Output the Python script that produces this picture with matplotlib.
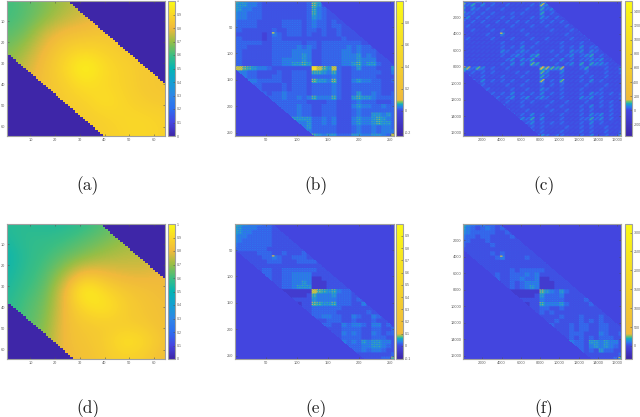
import numpy as np
import matplotlib
matplotlib.use("Agg")
import matplotlib.pyplot as plt
from matplotlib.colors import LinearSegmentedColormap, Normalize

W, H = 640, 417

# smooth panels, values at every 8th index
field_a = [
    [.60, .63, .67, .72, .75, .77, .79, .80, .80],
    [.60, .63, .68, .74, .77, .80, .81, .82, .82],
    [.63, .66, .77, .82, .83, .84, .84, .84, .84],
    [.66, .72, .81, .87, .90, .88, .85, .85, .85],
    [.70, .76, .83, .90, 1.0, .91, .88, .85, .85],
    [.72, .78, .83, .87, .93, .90, .88, .85, .84],
    [.74, .80, .84, .86, .88, .93, .89, .86, .85],
    [.78, .82, .84, .85, .86, .88, .90, .90, .88],
    [.80, .82, .84, .85, .86, .87, .89, .90, .88]]
field_d = [
    [.56, .57, .55, .55, .58, .62, .66, .70, .72],
    [.54, .58, .58, .60, .63, .66, .70, .72, .74],
    [.50, .57, .60, .64, .68, .72, .74, .74, .76],
    [.52, .58, .62, .72, .83, .80, .78, .78, .80],
    [.54, .60, .64, .80, 1.0, .90, .85, .83, .81],
    [.56, .62, .66, .81, .91, .95, .87, .84, .82],
    [.58, .62, .68, .82, .85, .86, .86, .85, .82],
    [.60, .64, .70, .82, .84, .86, .94, .91, .83],
    [.62, .66, .72, .80, .83, .85, .88, .86, .81]]

# block panels, one digit per block, digit = index into levels
levels = [0, -0.03, 0.008, 0.021, 0.033, 0.046, 0.058, 0.07, 0.12, 0.6]
blocks_b = [
    "7654 4322 2222 2223 7622 2222 2222 2222 2",
    "6554 4322 2222 2223 7522 2222 2222 2222 2",
    "6544 3322 2222 2223 6432 2222 2222 2222 2",
    "5443 3322 2222 2223 6432 2222 2222 2222 2",
    "5443 3322 2222 2223 5432 2222 2222 2222 2",
    "4333 3222 2233 3323 4332 3222 2222 2222 2",
    "4333 3222 2233 3323 4332 3322 2222 2222 2",
    "3322 2222 3223 3323 3232 2322 2222 2222 2",
    "2222 2212 4323 3323 2232 2322 2222 2222 2",
    "3322 2212 3322 2222 2222 2232 2222 2222 2",
    "3333 3322 3333 3323 3233 3333 3322 2222 2",
    "3332 2222 3333 3434 3233 3334 3433 2222 2",
    "3322 2222 3333 4444 2233 3344 3433 3222 2",
    "3322 2222 3333 4454 2233 3344 4534 3222 2",
    "3322 2222 3344 4454 2233 3344 4544 4222 2",
    "3322 2222 3344 5565 2233 3344 5645 5322 2",
    "8876 5443 2222 2222 9875 8322 3533 3222 5",
    "5443 3222 2322 3332 6654 6322 3333 3322 4",
    "2443 3222 3322 3332 3333 4322 3333 3222 2",
    "2254 4333 3322 3332 7554 7322 4544 3322 3",
    "2223 3322 2232 3332 3333 4322 3333 3322 2",
    "2222 3322 2232 3332 3333 4322 3333 3322 2",
    "2222 2332 3343 3332 3333 4322 3533 4322 3",
    "2222 2233 3343 3434 6444 6322 5655 4333 3",
    "2222 2223 3333 3332 2223 3222 3433 3222 3",
    "2222 2222 3333 3433 2233 3222 4544 3343 3",
    "2222 2222 2333 3433 2233 3222 3433 3333 3",
    "2222 2222 2333 3433 2233 3222 3433 5545 3",
    "2222 2222 2255 5555 3343 4222 4544 5654 3",
    "2222 2222 2223 3445 3343 4222 4544 5655 3",
    "2222 2222 2222 3445 3333 3222 3433 4344 3",
    "2222 2222 2222 2344 3333 3222 3433 4344 4",
    "2222 2222 2222 2236 6545 5333 5544 5543 8"]
blocks_c = [
    "7425 3242 3222 3222 6722 2222 2222 2222 2",
    "6352 4232 2322 2232 7422 2222 2222 2222 2",
    "5243 2322 3222 2322 5342 3222 2222 2222 2",
    "5332 3232 2232 3222 5232 2322 2222 2222 2",
    "3423 2322 3232 2232 4323 2232 2222 2222 2",
    "3232 3223 2323 2322 3232 3223 2222 2222 2",
    "2322 2322 2232 2232 2322 2322 2222 2222 2",
    "2232 2232 3222 3222 2232 2232 3222 2222 2",
    "2222 2322 4222 2322 2222 2322 2322 2222 2",
    "2322 2232 2232 2232 2322 2232 2232 2222 2",
    "2222 2222 3222 3223 2222 3222 3223 2222 2",
    "2222 2222 3232 4232 2222 3232 4233 2222 2",
    "2222 2222 4323 4323 2232 3243 4243 2222 2",
    "2222 2222 3234 3245 2223 2342 3452 3222 2",
    "2222 2222 2342 4352 2232 4232 3343 4222 2",
    "2222 2222 3242 4265 2223 2342 5254 4322 2",
    "8736 4232 2322 2222 8765 7222 3522 2322 4",
    "4232 3232 2223 2322 6422 4222 2322 2322 3",
    "2322 3222 3222 3222 5322 3222 3232 2322 2",
    "2232 4232 3232 2322 7232 6222 3242 3222 2",
    "2222 3222 2322 3222 3232 3222 2322 2322 2",
    "2222 2322 2232 2322 4322 3222 3222 3222 2",
    "2222 2232 3242 3232 4232 3222 3243 3232 3",
    "2222 2223 2342 3423 4322 3222 4342 3222 3",
    "2222 2222 2322 3232 2232 2322 2322 3232 2",
    "2222 2222 3222 3222 2322 3222 3242 3232 2",
    "2222 2222 2322 2322 2232 2322 3232 2232 2",
    "2222 2222 2232 3242 3222 3222 3243 4232 2",
    "2222 2222 2222 4352 4222 3222 3353 4232 2",
    "2222 2222 2222 2342 3232 3222 3242 3222 2",
    "2222 2222 2222 3232 3222 2322 3232 2322 2",
    "2222 2222 2222 2232 3222 3222 3232 2322 3",
    "2222 2222 2222 2243 4323 3222 3242 2322 7"]
blocks_e = [
    "7654 4433 2200 0000 0000 0000 0000 0000 0",
    "6544 4333 2220 0000 0000 0000 0000 0000 0",
    "6544 3333 2222 0000 0000 0000 0000 0000 0",
    "5443 3333 2222 2000 0000 0000 0000 0000 0",
    "5433 3333 2222 2200 0000 0000 0000 0000 0",
    "4333 3333 2222 2220 0000 0000 0000 0000 0",
    "3333 3332 2222 2222 2000 0000 0000 0000 0",
    "2222 2333 2232 2232 2200 0000 0000 0000 0",
    "0222 2233 4322 3332 2220 0000 0000 0000 0",
    "0022 2223 3322 2333 3220 0000 0000 0000 0",
    "0002 2222 2222 2222 2222 0000 0000 0000 0",
    "0000 2233 2233 3333 3222 2000 0000 0000 0",
    "0000 0233 2233 4444 2222 2200 0000 0000 0",
    "0000 0033 2233 4444 1122 2220 0000 0000 0",
    "0000 0002 2233 4454 1112 2222 0000 0000 0",
    "0000 0000 2233 4555 1112 2222 2000 0000 0",
    "0000 0000 0111 1111 8765 6433 2200 0000 0",
    "0000 0000 0111 1112 6444 5333 2220 0000 0",
    "0000 0000 0011 2222 5444 4333 2322 0000 0",
    "0000 0000 0001 1122 7655 6333 2242 2000 0",
    "0000 0000 0000 1122 3333 3322 2222 2200 0",
    "0000 0000 0000 0112 3333 3222 2223 2220 0",
    "0000 0000 0000 0012 3344 3322 4322 4322 0",
    "0000 0000 0000 0002 2223 3322 3222 3222 2",
    "0000 0000 0000 0000 2233 2243 4432 4423 2",
    "0000 0000 0000 0000 0222 2233 3322 3322 3",
    "0000 0000 0000 0000 0022 2243 4322 4323 3",
    "0000 0000 0000 0000 0002 2233 3322 3332 2",
    "0000 0000 0000 0000 0000 2243 4354 5544 2",
    "0000 0000 0000 0000 0000 0233 3344 5543 2",
    "0000 0000 0000 0000 0000 0023 3343 4432 2",
    "0000 0000 0000 0000 0000 0002 2222 2222 3",
    "0000 0000 0000 0000 0000 0000 2222 2233 7"]
blocks_f = [
    "7543 4332 2200 0000 0000 0000 0000 0000 0",
    "6432 3432 3220 0000 0000 0000 0000 0000 0",
    "5433 3332 2322 0000 0000 0000 0000 0000 0",
    "4332 3322 2232 2000 0000 0000 0000 0000 0",
    "3322 2322 2222 2200 0000 0000 0000 0000 0",
    "3222 2232 2222 2220 0000 0000 0000 0000 0",
    "2222 2222 2222 2222 2000 0000 0000 0000 0",
    "2222 2232 3222 2222 2200 0000 0000 0000 0",
    "0222 2223 4222 2322 2220 0000 0000 0000 0",
    "0022 2222 2222 2222 2220 0000 0000 0000 0",
    "0002 2222 2222 2222 2222 0000 0000 0000 0",
    "0000 2222 2232 3333 3222 2000 0000 0000 0",
    "0000 0223 2233 3434 2222 2200 0000 0000 0",
    "0000 0023 2233 4334 1122 2220 0000 0000 0",
    "0000 0002 2232 3444 1112 2222 0000 0000 0",
    "0000 0000 2232 3454 1112 2222 2000 0000 0",
    "0000 0000 0111 1111 7543 5322 2200 0000 0",
    "0000 0000 0111 1112 5333 4222 2220 0000 0",
    "0000 0000 0011 2222 4333 3222 2322 0000 0",
    "0000 0000 0001 1122 6444 5322 2232 2000 0",
    "0000 0000 0000 1122 3322 3222 2222 2200 0",
    "0000 0000 0000 0112 3232 2222 2222 2220 0",
    "0000 0000 0000 0012 2222 3222 3222 3222 0",
    "0000 0000 0000 0002 2223 2222 3232 3222 2",
    "0000 0000 0000 0000 2232 2232 3322 3322 2",
    "0000 0000 0000 0000 0222 2232 3322 3322 2",
    "0000 0000 0000 0000 0022 2233 3222 4322 3",
    "0000 0000 0000 0000 0002 2232 3232 3332 2",
    "0000 0000 0000 0000 0000 2243 3255 4544 2",
    "0000 0000 0000 0000 0000 0233 3245 4543 2",
    "0000 0000 0000 0000 0000 0022 3232 5332 2",
    "0000 0000 0000 0000 0000 0002 2222 2222 3",
    "0000 0000 0000 0000 0000 0000 2222 2223 7"]

# dotted fine structure inside each block (one per panel family)
tile_dots = [[1.5, .7, 1.4, .7], [.7, 1.0, .7, 1.0], [1.4, .7, 1.5, .7], [.7, 1.0, .7, 1.0]]
tile_slant = [[.5, .5, 1.3, 1.8], [.5, 1.3, 1.8, .5], [1.3, 1.8, .5, .5], [.5, .5, .5, .5]]
tiles = {"b": tile_dots, "e": tile_dots, "f": tile_dots, "c": tile_slant}

# small hot spots: row, column, value
hot_b = [(61, 61, 1.0), (60, 62, 0.5)]
hot_c = [(3950, 3950, 1100), (3900, 4000, 600)]
hot_e = [(61, 61, 0.5), (60, 62, 0.3)]
hot_f = [(3950, 3950, 1400), (3900, 4000, 600)]
hot_spots = {"b": hot_b, "c": hot_c, "e": hot_e, "f": hot_f}

offsets = {"a": (24, 24), "d": (37, 36), "b": (134, 128), "e": (60, 48),
           "c": (8400, 8400), "f": (3900, 3100)}
panel_names = ["a", "b", "c", "d", "e", "f"]
sizes = {"a": 64, "d": 64, "b": 256, "e": 256, "c": 16384, "f": 16384}
limits = {"a": (0, 1), "d": (0, 1), "b": (-0.23, 1.0), "e": (-0.107, 0.998),
          "c": (-366, 1549), "f": (-344, 3227)}
axis_ticks = {"a": [10, 20, 30, 40, 50, 60], "b": [50, 100, 150, 200, 250],
              "c": [2000, 4000, 6000, 8000, 10000, 12000, 14000, 16000]}
axis_ticks["d"], axis_ticks["e"], axis_ticks["f"] = axis_ticks["a"], axis_ticks["b"], axis_ticks["c"]
bar_ticks = {"a": [0, .1, .2, .3, .4, .5, .6, .7, .8, .9, 1],
             "b": [-.2, 0, .2, .4, .6, .8, 1],
             "c": [-200, 0, 200, 400, 600, 800, 1000, 1200, 1400],
             "e": [-.1, 0, .1, .2, .3, .4, .5, .6, .7, .8, .9],
             "f": [0, 500, 1000, 1500, 2000, 2500, 3000]}
bar_ticks["d"] = bar_ticks["a"]

# pixel boxes of the axes and colorbars: left, right
columns = {"a": (7, 165, 168, 175), "b": (235, 394, 396, 403), "c": (463, 621, 625, 632)}
columns["d"], columns["e"], columns["f"] = columns["a"], columns["b"], columns["c"]
rows = {"a": (1, 136), "b": (1, 136), "c": (1, 136), "d": (224, 359), "e": (224, 359), "f": (224, 359)}
caption_x = {"a": 88, "b": 316, "c": 544, "d": 88, "e": 316, "f": 544}
caption_y = {"a": 186, "b": 186, "c": 186, "d": 409, "e": 409, "f": 409}

parula = ["#3e26a8", "#4646e1", "#2d6ef0", "#2e86e6", "#14a0d2", "#05b4b4",
          "#3cbe82", "#96be46", "#f0b93c", "#fad728", "#fafa14"]
edge = "#a0a0a0"
ink = "#606060"
tick_font = "Liberation Sans"


def ramp_cmap(vmin, vmax):
    # all of the colour change happens in the first tenth above zero
    nodes = [(vmin, "#3e26a8"), (0, "#4446e0"), (.03 * vmax, "#2d78f0"),
             (.06 * vmax, "#14afbe"), (.08 * vmax, "#78c364"),
             (.097 * vmax, "#f0b93c"), (vmax, "#fafa14")]
    return LinearSegmentedColormap.from_list(
        "ramp", [((v - vmin) / (vmax - vmin), c) for v, c in nodes], N=512)


def parse_blocks(table, vmax):
    grid = [[levels[int(ch)] * vmax for ch in row.replace(" ", "")] for row in table]
    return np.array(grid)


def dotted(grid, tile, spots, n):
    fine = np.kron(grid, np.array(tile))
    m = fine.shape[0]
    neg = np.kron(grid, np.ones((4, 4)))
    fine[neg < 0] = neg[neg < 0]
    for r, c, v in spots:
        fine[int((r / n) * (m - 4)) + 2, int((c / n) * (m - 4)) + 2] = v
    return fine


def box(left, right, top, bottom):
    return [left / W, 1 - bottom / H, (right - left) / W, (bottom - top) / H]


def style_axes(ax):
    for s in ax.spines.values():
        s.set_color(edge)
        s.set_linewidth(0.8)


fig = plt.figure(figsize=(W / 100, H / 100), dpi=100)
data = {"a": field_a, "d": field_d, "b": parse_blocks(blocks_b, 1.0), "c": parse_blocks(blocks_c, 1240),
        "e": parse_blocks(blocks_e, 0.998), "f": parse_blocks(blocks_f, 3227)}

for name in panel_names:
    l, r, cl, cr = columns[name]
    t, b = rows[name]
    n = sizes[name]
    vmin, vmax = limits[name]
    ax = fig.add_axes(box(l, r, t, b))
    grid = np.array(data[name], dtype=float)
    if name in "ad":
        cmap = LinearSegmentedColormap.from_list("par", parula, N=256)
        interp = "bicubic"
        step = n / 8
    else:
        cmap = ramp_cmap(vmin, vmax)
        interp = "bilinear"
        step = n / 32
        grid = dotted(grid, tiles[name], hot_spots[name], n)
    norm = Normalize(vmin, vmax)
    extent = (-step / 2, n + step / 2, n + step / 2, -step / 2)
    im = ax.imshow(grid, cmap=cmap, norm=norm, extent=extent, aspect="auto", interpolation=interp)
    # outside the band everything is exactly zero
    up, low = offsets[name]
    cells = 64 if name in "ad" else 256
    ii, jj = np.mgrid[0:cells, 0:cells]
    scale = n / cells
    outside = ((jj - ii) * scale > up) | ((ii - jj) * scale > low)
    ax.imshow(np.ma.masked_where(~outside, np.zeros(outside.shape)), cmap=cmap, norm=norm,
              extent=(0, n + 0.5, n + 0.5, 0), aspect="auto", interpolation="nearest")
    ax.set_xlim(0.5 if n < 1000 else 0, n + 0.5 if n < 1000 else n)
    ax.set_ylim(n + 0.5 if n < 1000 else n, 0.5 if n < 1000 else 0)
    ax.set_xticks(axis_ticks[name])
    ax.set_yticks(axis_ticks[name])
    ax.tick_params(direction="in", length=1.2, width=0.4, color="#505050", labelsize=2.8,
                   labelcolor=ink, pad=1.2, top=True, right=True)
    for lab in ax.get_xticklabels() + ax.get_yticklabels():
        lab.set_family(tick_font)
    style_axes(ax)

    cax = fig.add_axes(box(cl, cr, t, b))
    cb = fig.colorbar(im, cax=cax)
    cb.set_ticks(bar_ticks[name])
    cb.set_ticklabels([str(v) for v in bar_ticks[name]])
    cax.tick_params(direction="in", length=1.2, width=0.4, color="#505050", labelsize=2.6,
                    labelcolor=ink, pad=1.0)
    for lab in cax.get_yticklabels():
        lab.set_family(tick_font)
    style_axes(cax)
    cb.outline.set_edgecolor(edge)
    cb.outline.set_linewidth(0.8)

    fig.text(caption_x[name] / W, 1 - caption_y[name] / H, "(%s)" % name, family="cmr10",
             fontsize=12.5, color="#202020", ha="center", va="center")

fig.savefig("out.png", dpi=100)
